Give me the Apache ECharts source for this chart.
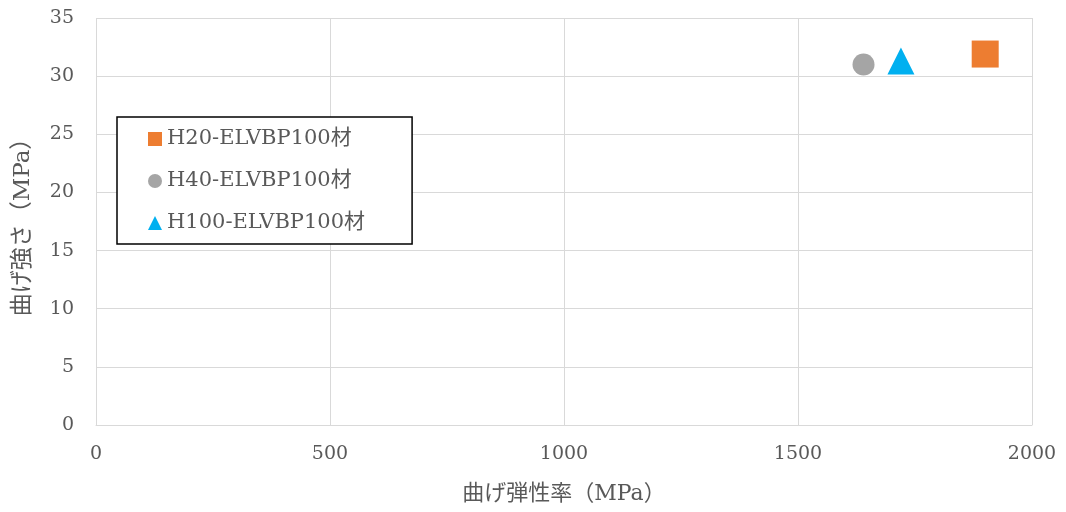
<!DOCTYPE html>
<html>
<head>
<meta charset="utf-8">
<script src="https://cdn.jsdelivr.net/npm/echarts@6/dist/echarts.min.js"></script>
<style>
  html, body { margin: 0; padding: 0; background: #fff; }
  #chart { width: 1066px; height: 512px; }
</style>
</head>
<body>
<div id="chart"></div>
<script>
// Bending modulus (x) vs bending strength (y), one point per specimen group
const seriesNames = ['H20-ELVBP100材', 'H40-ELVBP100材', 'H100-ELVBP100材'];
const modulus = [1900, 1640, 1720];   // 曲げ弾性率 (MPa)
const strength = [31.9, 31.0, 31.3];  // 曲げ強さ (MPa)
const xTicks = [0, 500, 1000, 1500, 2000];
const yTicks = [0, 5, 10, 15, 20, 25, 30, 35];

const colors = ['#ED7D31', '#A5A5A5', '#00B0F0'];
const symbols = ['rect', 'circle', 'triangle'];
const sizes = [[27, 27], [22, 22], [27, 27]];

const FONT = '"DejaVu Serif", "Noto Sans CJK JP", serif';
const TEXT = '#595959';

const chart = echarts.init(document.getElementById('chart'));
chart.setOption({
  animation: false,
  textStyle: { fontFamily: FONT, color: TEXT },
  grid: { left: 96, right: 34, top: 18, bottom: 87 },
  xAxis: {
    type: 'value',
    min: xTicks[0], max: xTicks[xTicks.length - 1], interval: 500,
    name: '曲げ弾性率（MPa）',
    nameLocation: 'middle', nameGap: 58,
    nameTextStyle: { fontFamily: FONT, fontSize: 22, color: TEXT },
    axisLine: { show: true, lineStyle: { color: '#D9D9D9', width: 1 } },
    axisTick: { show: false },
    axisLabel: { fontFamily: FONT, fontSize: 19, color: TEXT, margin: 20,
      formatter: v => String(v) },
    splitLine: { show: true, lineStyle: { color: '#D9D9D9', width: 1 } }
  },
  yAxis: {
    type: 'value',
    min: yTicks[0], max: yTicks[yTicks.length - 1], interval: 5,
    name: '曲げ強さ（MPa）',
    nameLocation: 'middle', nameGap: 61, nameRotate: 90,
    nameTextStyle: { fontFamily: FONT, fontSize: 23, color: TEXT },
    axisLine: { show: false },
    axisTick: { show: false },
    axisLabel: { fontFamily: FONT, fontSize: 19, color: TEXT, margin: 22,
      formatter: v => String(v) },
    splitLine: { show: true, lineStyle: { color: '#D9D9D9', width: 1 } }
  },
  legend: {
    orient: 'vertical',
    left: 117, top: 117,
    backgroundColor: '#fff',
    borderColor: '#000', borderWidth: 1.5,
    padding: [11, 47, 10, 31],
    itemWidth: 14, itemHeight: 14, itemGap: 20,
    textStyle: { fontFamily: FONT, fontSize: 21, color: TEXT, lineHeight: 22 },
    data: seriesNames
  },
  series: seriesNames.map((name, i) => ({
    name,
    type: 'scatter',
    symbol: symbols[i],
    symbolSize: sizes[i],
    itemStyle: { color: colors[i], opacity: 1 },
    data: [[modulus[i], strength[i]]]
  }))
});
</script>
</body>
</html>
